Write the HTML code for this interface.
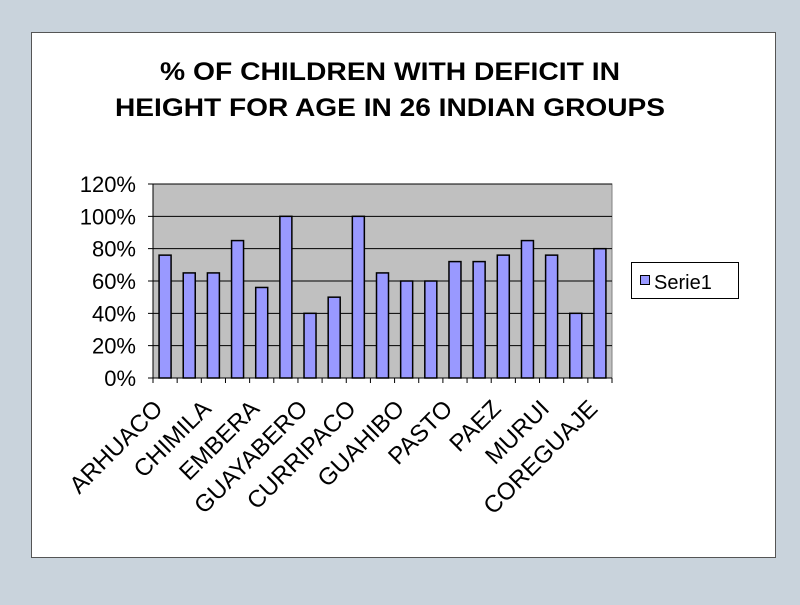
<!DOCTYPE html>
<html><head><meta charset="utf-8"><style>
body{margin:0;background:#c9d3dc;width:800px;height:600px;overflow:hidden;font-family:"Liberation Sans",sans-serif}
</style></head><body>
<svg width="800" height="600">
<rect x="31.5" y="32.5" width="744" height="525" fill="#fff" stroke="#555"/>
<text x="390" y="80" font-size="25" font-weight="bold" text-anchor="middle" textLength="460" lengthAdjust="spacingAndGlyphs">% OF CHILDREN WITH DEFICIT IN</text>
<text x="390" y="116" font-size="25" font-weight="bold" text-anchor="middle" textLength="550" lengthAdjust="spacingAndGlyphs">HEIGHT FOR AGE IN 26 INDIAN GROUPS</text>
<g id="plot"></g>
<g>
<rect x="631.5" y="262.5" width="107" height="36" fill="#fff" stroke="#000"/>
<rect x="640.5" y="275.5" width="9" height="9" fill="#9999ff" stroke="#000"/>
<text x="654" y="289" font-size="20">Serie1</text>
</g>
</svg>
<script>
const categories=["ARHUACO","ARSARIO","CHIMILA","COGUI","EMBERA","WAYUU","GUAYABERO","SIKUANI","CURRIPACO","PIAROA","GUAHIBO","INGA","PASTO","NASA","PAEZ","KOFAN","MURUI","SIONA","COREGUAJE"];
const values=[76,65,65,85,56,100,40,50,100,65,60,60,72,72,76,85,76,40,80];
const ticks=[0,20,40,60,80,100,120];
const L=153,R=612,T=184,B=378,max=120;
const y=v=>B-(v/max)*(B-T);
const step=(R-L)/categories.length;
const x=i=>L+step*(i+0.5);
const g=document.getElementById('plot');
const NS="http://www.w3.org/2000/svg";
function mk(t,a){const e=document.createElementNS(NS,t);for(const k in a)e.setAttribute(k,a[k]);g.appendChild(e);return e;}
const bg=mk('rect',{x:L,y:T,width:R-L,height:B-T,fill:'#c0c0c0',stroke:'#808080'});


ticks.forEach(t=>{
 const ln=mk('line',{x1:L-5,x2:R,y1:y(t),y2:y(t),stroke:'#000','stroke-width':1});
 
 
 const tx=mk('text',{x:L-17,y:y(t)+8,'font-size':22,'text-anchor':'end'});
 tx.textContent=t+'%';
 
 
});
mk('line',{x1:L,x2:L,y1:T,y2:B,stroke:'#000'});
for(let i=0;i<=categories.length;i++){mk('line',{x1:L+step*i,x2:L+step*i,y1:B,y2:B+5,stroke:'#000'});}
values.forEach((v,i)=>{
 const r=mk('rect',{x:x(i)-6,y:y(v),width:12,height:B-y(v),fill:'#9999ff',stroke:'#000','stroke-width':1.5});
 
 
});
categories.forEach((c,i)=>{
 if(i%2)return;
 const ax=x(i)-1, ay=B+32;
 const tx=mk('text',{x:ax,y:ay,'font-size':24,'text-anchor':'end',transform:`rotate(-45 ${ax} ${ay})`});
 tx.textContent=c;
 
 
});
</script>
</body></html>
